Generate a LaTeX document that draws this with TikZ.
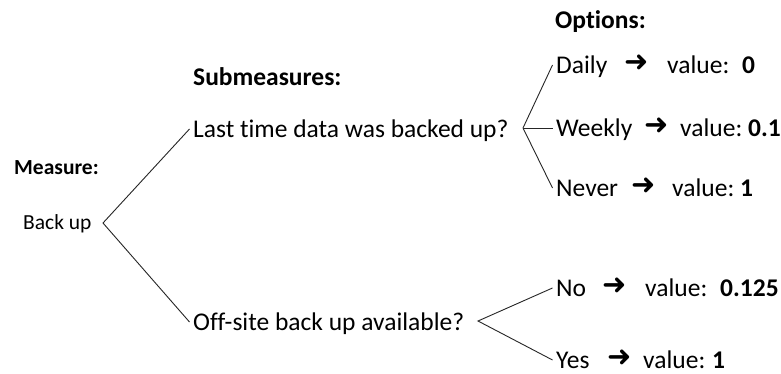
\documentclass[tikz,border=0pt]{standalone}
\usepackage{fontspec}
\setmainfont{Carlito}[Ligatures=NoCommon]
\newfontfamily\arrowfont{DejaVu Sans}
\begin{document}
\begin{tikzpicture}[x=1pt,y=-1pt,
  txt/.style={anchor=west,inner xsep=3.5pt,inner ysep=0pt,text height=16.4pt,
    text depth=0pt,xshift=-3.5pt,font=\fontsize{25.5}{30}\selectfont},
  head/.style={txt,font=\fontsize{25.5}{30}\selectfont\bfseries},
  num/.style={txt,font=\fontsize{25.5}{30}\selectfont\bfseries},
  small/.style={txt,text height=13.8pt,font=\fontsize{21.5}{26}\selectfont},
  smallhead/.style={small,font=\fontsize{21.5}{26}\selectfont\bfseries},
  arr/.style={anchor=west,inner sep=0pt,text height=17.4pt,text depth=0pt,
    xshift=-1pt,yshift=2pt,font=\fontsize{29}{32}\selectfont\arrowfont},
  link/.style={draw=black!85,line width=0.9pt}]
\fill[white] (0,0) rectangle (781,374);
\useasboundingbox (0,0) rectangle (781,374);

% column headings
\node[smallhead] (meas) at (14,168) {Measure:};
\node[head] (subh) at (193,77) {Submeasures:};
\node[head] (opth) at (555,20) {Options:};

% measure and submeasures
\node[small] (bu) at (23,223) {Back up};
\node[txt] (last) at (193,129) {Last time data was backed up?};
\node[txt] (off) at (193,322) {Off-site back up available?};

% options of the first submeasure
\node[txt] (daily) at (556,65) {Daily};
\node[arr] (a1) at (625,65) {➜};
\node[txt] (v1) at (667,65) {value:};
\node[num] (n1) at (742,65) {0};

\node[txt] (weekly) at (556,128) {Weekly};
\node[arr] (a2) at (645,128) {➜};
\node[txt] (v2) at (680,128) {value:};
\node[num] (n2) at (748,128) {0.1};

\node[txt] (never) at (556,188) {Never};
\node[arr] (a3) at (632,188) {➜};
\node[txt] (v3) at (672,188) {value:};
\node[num] (n3) at (740,188) {1};

% options of the second submeasure
\node[txt] (no) at (556,288) {No};
\node[arr] (a4) at (603,288) {➜};
\node[txt] (v4) at (645,288) {value:};
\node[num] (n4) at (720,288) {0.125};

\node[txt] (yes) at (556,360) {Yes};
\node[arr] (a5) at (608,360) {➜};
\node[txt] (v5) at (643,360) {value:};
\node[num] (n5) at (712,360) {1};

% branching points
\coordinate (fork0) at (103,223);
\coordinate (fork1) at (523,128);
\coordinate (fork2) at (478,321);

\draw[link] (last.west) -- (fork0) -- (off.west);
\draw[link] (daily.west) -- (fork1) -- (never.west);
\draw[link] (fork1) -- (weekly.west);
\draw[link] (no.west) -- (fork2) -- (yes.west);
\end{tikzpicture}
\end{document}
